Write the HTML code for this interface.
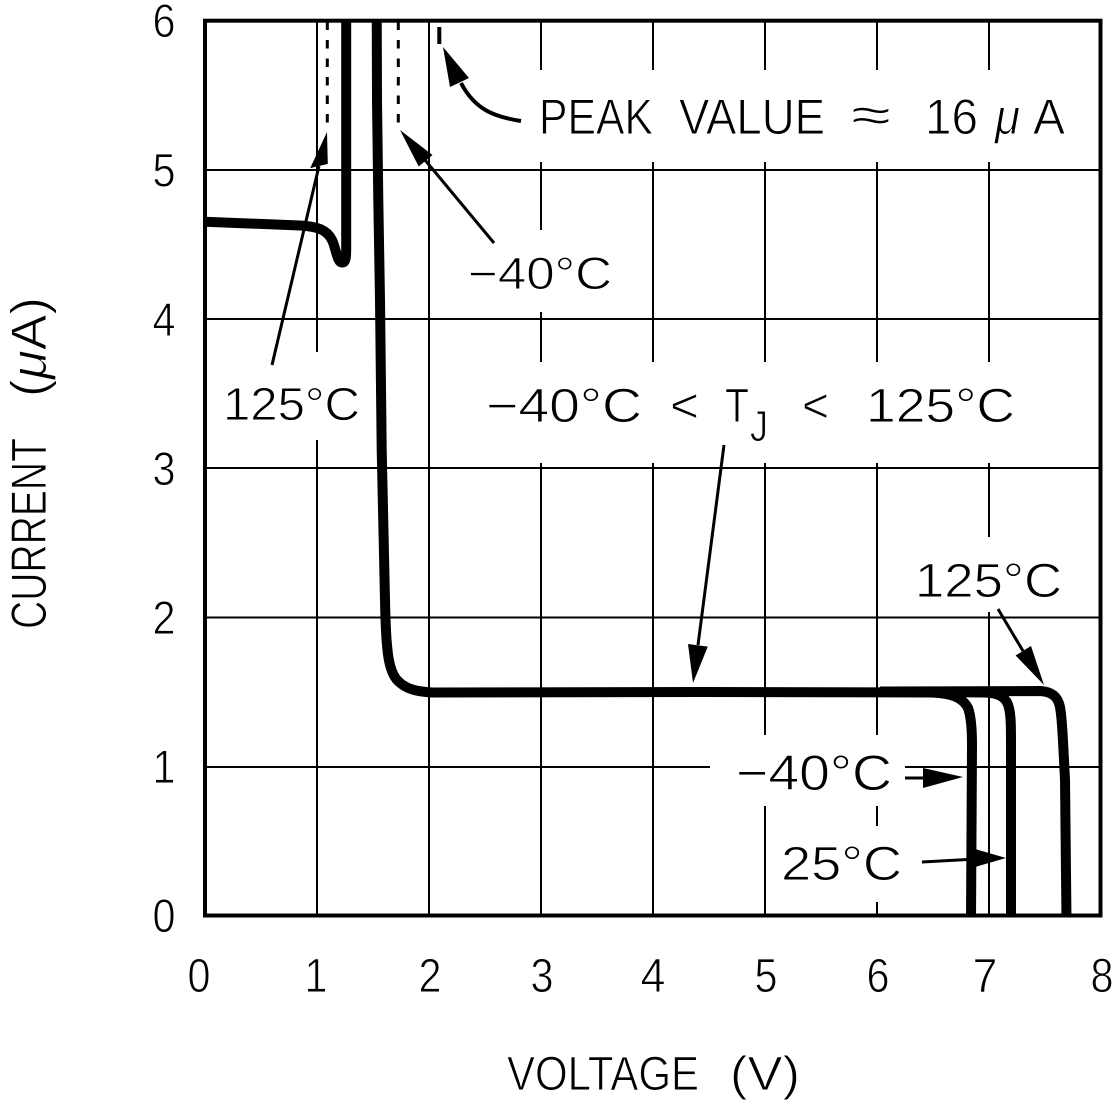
<!DOCTYPE html>
<html>
<head>
<meta charset="utf-8">
<style>
html,body{margin:0;padding:0;background:#fff;}
svg{display:block;}
text{font-family:"Liberation Sans", "DejaVu Sans", sans-serif;fill:#000;stroke:#fff;stroke-width:0.9px;paint-order:fill stroke;}
</style>
</head>
<body>
<svg width="1113" height="1100" viewBox="0 0 1113 1100" xmlns="http://www.w3.org/2000/svg">
<defs>
<clipPath id="plot"><rect x="205" y="20.7" width="895.5" height="894.8"/></clipPath>
</defs>
<rect x="0" y="0" width="1113" height="1100" fill="#fff"/>

<!-- grid -->
<g stroke="#000" stroke-width="2">
<line x1="317" y1="20" x2="317" y2="916"/>
<line x1="429" y1="20" x2="429" y2="916"/>
<line x1="541" y1="20" x2="541" y2="916"/>
<line x1="653" y1="20" x2="653" y2="916"/>
<line x1="765" y1="20" x2="765" y2="916"/>
<line x1="877" y1="20" x2="877" y2="916"/>
<line x1="989" y1="20" x2="989" y2="916"/>
<line x1="205" y1="767" x2="1100" y2="767"/>
<line x1="205" y1="617.5" x2="1100" y2="617.5"/>
<line x1="205" y1="468" x2="1100" y2="468"/>
<line x1="205" y1="319" x2="1100" y2="319"/>
<line x1="205" y1="170" x2="1100" y2="170"/>
</g>

<!-- white label backgrounds -->
<g fill="#fff">
<rect x="528" y="70" width="552" height="92"/>
<rect x="460" y="230" width="160" height="82"/>
<rect x="215" y="352" width="150" height="88"/>
<rect x="475" y="362" width="547" height="101"/>
<rect x="905" y="537" width="170" height="75"/>
<rect x="710" y="735" width="195" height="71"/>
<rect x="775" y="826" width="135" height="76"/>
</g>

<!-- dashed lines -->
<g stroke="#000" stroke-width="3" fill="none">
<line x1="327.3" y1="21.5" x2="327.3" y2="127" stroke-dasharray="8.5 10"/>
<line x1="398.3" y1="21.5" x2="398.3" y2="126" stroke-dasharray="8.5 10"/>
<line x1="439.3" y1="27" x2="439.3" y2="44" stroke-width="4"/>
</g>

<!-- curves -->
<g clip-path="url(#plot)" stroke="#000" stroke-width="10" fill="none" stroke-linejoin="round">
<path d="M200,221.5 L300,225.5 C318,226.5 327,230 332,240 C336,248 337,262.5 342,262.5 C346.2,262.5 346.2,256 346.2,248 L346.2,10"/>
<path d="M376.7,10 L377,100 L378.3,200 L380,300 L381.7,450 L385,600 C386,655 389,672 398,681 C406,689 416,691.5 432,692.5 L700,692 L930,692.5 C952,693 963,698 968,708 C971,716 972,728 972,745 L971,920"/>
<path d="M880,691.5 L985,692.5 C1000,693 1007,698 1009,708 C1011,716 1011,728 1011,745 L1011,920"/>
<path d="M880,691.5 L1040,691 C1052,691.5 1058,697 1060,707 C1062,718 1063,740 1065,780 L1066.5,920"/>
</g>

<!-- frame -->
<rect x="205" y="20.7" width="895.5" height="894.8" fill="none" stroke="#000" stroke-width="4"/>

<!-- arrows -->
<g stroke="#000" stroke-width="3" fill="none" stroke-linecap="butt">
<line x1="272" y1="365" x2="319" y2="166"/>
<line x1="494" y1="243" x2="425" y2="160"/>
<path d="M521,121 C495,117 475,110 461,83" stroke-width="4"/>
<line x1="724" y1="445" x2="698" y2="645"/>
<line x1="998" y1="609" x2="1023" y2="651"/>
<line x1="905" y1="778" x2="925" y2="778"/>
<line x1="922" y1="862" x2="977" y2="859"/>
</g>
<g fill="#000">
<polygon points="327,132 310.2,168.1 327.8,163.9"/>
<polygon points="400,130 432.5,155 418.7,166.5"/>
<polygon points="443,47 450,87 469,78"/>
<polygon points="693,683 707.8,646.6 688,644"/>
<polygon points="1044,685 1031,646 1015.6,655.5"/>
<polygon points="963,777 923,768 923,788"/>
<polygon points="1006,858 975,849 975,867"/>
</g>

<!-- annotation text -->
<text x="539" y="134" font-size="50" textLength="114" lengthAdjust="spacingAndGlyphs">PEAK</text>
<text x="679" y="134" font-size="50" textLength="146" lengthAdjust="spacingAndGlyphs">VALUE</text>
<text x="851" y="132" font-size="50" textLength="40" lengthAdjust="spacingAndGlyphs">≈</text>
<text x="925" y="134" font-size="50" textLength="53" lengthAdjust="spacingAndGlyphs">16</text>
<text x="995" y="134" font-size="50" font-style="italic" textLength="25" lengthAdjust="spacingAndGlyphs">μ</text>
<text x="1033" y="134" font-size="50" textLength="32" lengthAdjust="spacingAndGlyphs">A</text>

<text x="468" y="289" font-size="45" textLength="144" lengthAdjust="spacingAndGlyphs">−40°C</text>
<text x="223" y="420" font-size="46" textLength="137" lengthAdjust="spacingAndGlyphs">125°C</text>

<text x="486" y="422" font-size="48" textLength="156" lengthAdjust="spacingAndGlyphs">−40°C</text>
<text x="670" y="422" font-size="48" textLength="29" lengthAdjust="spacingAndGlyphs">&lt;</text>
<text x="725" y="422" font-size="48" textLength="24" lengthAdjust="spacingAndGlyphs">T</text>
<text x="750" y="441" font-size="44" textLength="18" lengthAdjust="spacingAndGlyphs">J</text>
<text x="802" y="422" font-size="48" textLength="27" lengthAdjust="spacingAndGlyphs">&lt;</text>
<text x="866" y="422" font-size="48" textLength="149" lengthAdjust="spacingAndGlyphs">125°C</text>

<text x="915" y="597" font-size="48" textLength="147" lengthAdjust="spacingAndGlyphs">125°C</text>
<text x="736" y="790" font-size="50" textLength="156" lengthAdjust="spacingAndGlyphs">−40°C</text>
<text x="781" y="880" font-size="48" textLength="121" lengthAdjust="spacingAndGlyphs">25°C</text>

<!-- y tick labels -->
<g font-size="47" text-anchor="middle">
<text x="164" y="932" textLength="23" lengthAdjust="spacingAndGlyphs">0</text>
<text x="164" y="783" textLength="23" lengthAdjust="spacingAndGlyphs">1</text>
<text x="164" y="634" textLength="23" lengthAdjust="spacingAndGlyphs">2</text>
<text x="164" y="485" textLength="23" lengthAdjust="spacingAndGlyphs">3</text>
<text x="164" y="336" textLength="23" lengthAdjust="spacingAndGlyphs">4</text>
<text x="164" y="186.5" textLength="23" lengthAdjust="spacingAndGlyphs">5</text>
<text x="164" y="37" textLength="23" lengthAdjust="spacingAndGlyphs">6</text>
</g>

<!-- x tick labels -->
<g font-size="48" text-anchor="middle">
<text x="199" y="992" textLength="23" lengthAdjust="spacingAndGlyphs">0</text>
<text x="316" y="992" textLength="23" lengthAdjust="spacingAndGlyphs">1</text>
<text x="430" y="992" textLength="23" lengthAdjust="spacingAndGlyphs">2</text>
<text x="542" y="992" textLength="23" lengthAdjust="spacingAndGlyphs">3</text>
<text x="653" y="992" textLength="25" lengthAdjust="spacingAndGlyphs">4</text>
<text x="766" y="992" textLength="23" lengthAdjust="spacingAndGlyphs">5</text>
<text x="878" y="992" textLength="23" lengthAdjust="spacingAndGlyphs">6</text>
<text x="985" y="992" textLength="25" lengthAdjust="spacingAndGlyphs">7</text>
<text x="1102" y="992" textLength="23" lengthAdjust="spacingAndGlyphs">8</text>
</g>

<!-- axis titles -->
<text x="507" y="1090" font-size="48" textLength="192" lengthAdjust="spacingAndGlyphs">VOLTAGE</text>
<text x="730" y="1090" font-size="48" textLength="70" lengthAdjust="spacingAndGlyphs">(V)</text>

<g transform="translate(46,629) rotate(-90)">
<text x="0" y="0" font-size="50" textLength="191" lengthAdjust="spacingAndGlyphs">CURRENT</text>
</g>
<g transform="translate(46,397) rotate(-90)">
<text x="0" y="0" font-size="50" textLength="100" lengthAdjust="spacingAndGlyphs">(<tspan font-style="italic">μ</tspan>A)</text>
</g>
</svg>
</body>
</html>
